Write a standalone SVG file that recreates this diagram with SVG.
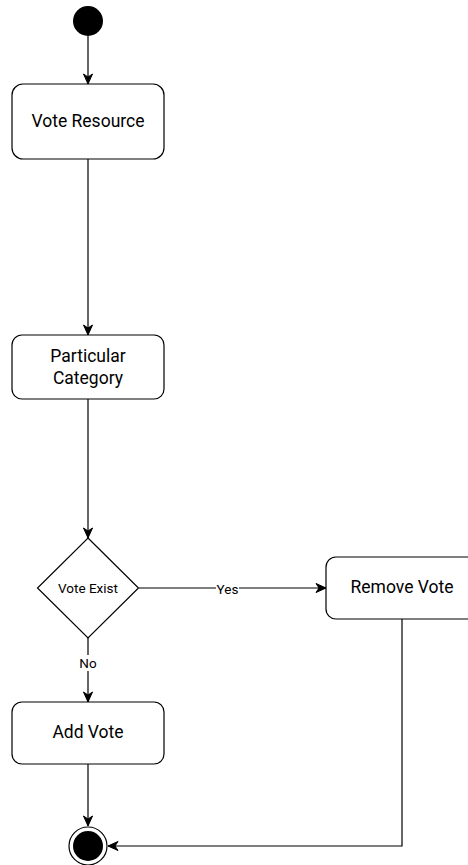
<svg xmlns="http://www.w3.org/2000/svg" width="468" height="865" viewBox="0 0 468 865">
<style>
.box{fill:#fff;stroke:#000;stroke-width:1.2}
.edge{fill:none;stroke:#000;stroke-width:1.2}
.t{font-family:Roboto,"Liberation Sans",sans-serif;font-weight:400;font-size:17.5px;fill:#000;text-anchor:middle;dominant-baseline:central}
.s{font-family:Roboto,"Liberation Sans",sans-serif;font-weight:400;font-size:13.5px;fill:#000;text-anchor:middle;dominant-baseline:central}
</style>
<defs>
<marker id="arr" markerUnits="userSpaceOnUse" markerWidth="12" markerHeight="12" viewBox="0 0 12 12" refX="11" refY="6" orient="auto">
<path d="M1,1.5 L11,6 L1,10.5 L4,6 Z" fill="#000" stroke="#000" stroke-width="1"/>
</marker>
</defs>
<rect width="468" height="865" fill="#fff"/>
<g id="connectors">
<line class="edge" x1="88" y1="36" x2="88" y2="84" marker-end="url(#arr)"/>
<line class="edge" x1="88" y1="159" x2="88" y2="335" marker-end="url(#arr)"/>
<line class="edge" x1="88" y1="399" x2="88" y2="538" marker-end="url(#arr)"/>
<line class="edge" x1="139" y1="588" x2="326" y2="588" marker-end="url(#arr)"/>
<rect x="216" y="580" width="23" height="16" fill="#fff"/>
<text class="s" x="227.5" y="589">Yes</text>
<line class="edge" x1="88" y1="638" x2="88" y2="702" marker-end="url(#arr)"/>
<rect x="78" y="655" width="20" height="16" fill="#fff"/>
<text class="s" x="88" y="663">No</text>
<line class="edge" x1="88" y1="764" x2="88" y2="826" marker-end="url(#arr)"/>
<polyline class="edge" points="402,619 402,846 108,846" marker-end="url(#arr)"/>
</g>
<g id="start">
<circle cx="88" cy="21" r="15" fill="#000"/>
</g>
<g id="vote-resource">
<rect class="box" x="12" y="84" width="152" height="75" rx="11"/>
<text class="t" x="88" y="121">Vote Resource</text>
</g>
<g id="particular-category">
<rect class="box" x="12" y="335" width="152" height="64" rx="10"/>
<text class="t" x="88" y="356">Particular</text>
<text class="t" x="88" y="378">Category</text>
</g>
<g id="vote-exist">
<polygon class="box" points="88,538 138.5,588 88,638 37.5,588"/>
<text class="s" x="88" y="588">Vote Exist</text>
</g>
<g id="remove-vote">
<rect class="box" x="326" y="557" width="152" height="62" rx="10"/>
<text class="t" x="402" y="587">Remove Vote</text>
</g>
<g id="add-vote">
<rect class="box" x="12" y="702" width="152" height="62" rx="10"/>
<text class="t" x="88" y="732">Add Vote</text>
</g>
<g id="end">
<circle cx="88" cy="846" r="19" fill="#fff" stroke="#000" stroke-width="1.2"/>
<circle cx="88" cy="846" r="15" fill="#000"/>
</g>
</svg>
